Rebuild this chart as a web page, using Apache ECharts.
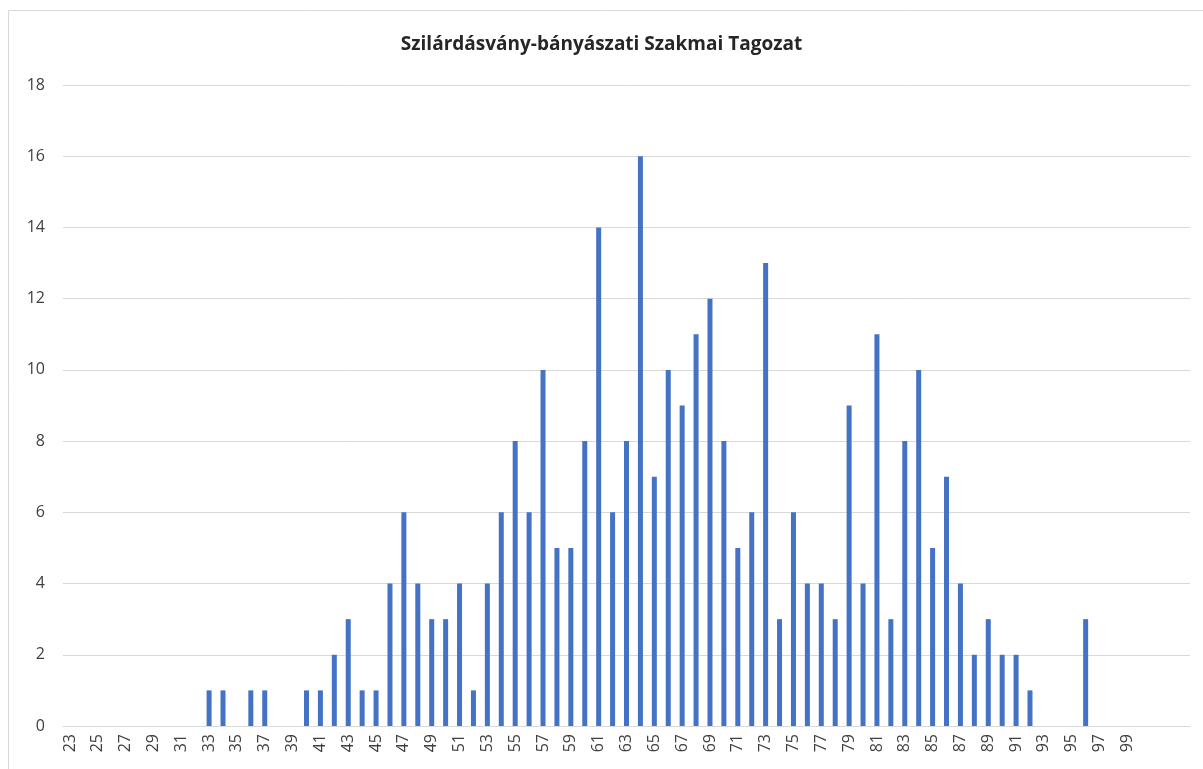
<!DOCTYPE html>
<html>
<head>
<meta charset="utf-8">
<style>
  html, body { margin: 0; padding: 0; background: #fff; }
  #main { width: 1203px; height: 769px; }
</style>
</head>
<body>
<div id="main"></div>
<script src="https://cdn.jsdelivr.net/npm/echarts@6/dist/echarts.min.js"></script>
<script>
    // kategóriák: 23..100, utána három üres oszlop (a képen nincs felirat)
    var categories = [
        '23','24','25','26','27','28','29','30','31','32',
        '33','34','35','36','37','38','39','40','41','42',
        '43','44','45','46','47','48','49','50','51','52',
        '53','54','55','56','57','58','59','60','61','62',
        '63','64','65','66','67','68','69','70','71','72',
        '73','74','75','76','77','78','79','80','81','82',
        '83','84','85','86','87','88','89','90','91','92',
        '93','94','95','96','97','98','99','100','','',''
    ];
    var counts = [
        0, 0, 0, 0, 0, 0, 0, 0, 0, 0,
        1, 1, 0, 1, 1, 0, 0, 1, 1, 2,
        3, 1, 1, 4, 6, 4, 3, 3, 4, 1,
        4, 6, 8, 6, 10, 5, 5, 8, 14, 6,
        8, 16, 7, 10, 9, 11, 12, 8, 5, 6,
        13, 3, 6, 4, 4, 3, 9, 4, 11, 3,
        8, 10, 5, 7, 4, 2, 3, 2, 2, 1,
        0, 0, 0, 3, 0, 0, 0, 0, 0, 0, 0
    ];
    var chartTitle = 'Szilárdásvány-bányászati Szakmai Tagozat';

    var myChart = echarts.init(document.getElementById('main'));

    option = {
        animation: false,
        title: {
            text: chartTitle,
            left: 'center',
            top: 30,
            textStyle: {
                fontFamily: 'Open Sans',
                fontSize: 19,
                fontWeight: 'bold',
                color: '#262626'
            }
        },
        graphic: [{
            type: 'rect',
            shape: { x: 8.5, y: 10.5, width: 1300, height: 900 },
            style: { fill: 'none', stroke: '#d9d9d9', lineWidth: 1 },
            silent: true
        }],
        grid: {
            left: 63,
            right: 13,
            top: 85,
            bottom: 43
        },
        xAxis: {
            type: 'category',
            data: categories,
            axisLine: { lineStyle: { color: '#d9d9d9' } },
            axisTick: { show: false },
            axisLabel: {
                interval: 1,
                rotate: 90,
                margin: 8,
                color: '#404040',
                fontFamily: 'Open Sans',
                fontSize: 16
            }
        },
        yAxis: {
            type: 'value',
            min: 0,
            max: 18,
            interval: 2,
            axisLine: { show: false },
            axisTick: { show: false },
            splitLine: { lineStyle: { color: '#d9d9d9' } },
            axisLabel: {
                margin: 18,
                color: '#404040',
                fontFamily: 'Open Sans',
                fontSize: 16
            }
        },
        series: [{
            type: 'bar',
            data: counts,
            barWidth: 5,
            itemStyle: { color: '#4472c4' }
        }]
    };

    myChart.setOption(option);
</script>
</body>
</html>
